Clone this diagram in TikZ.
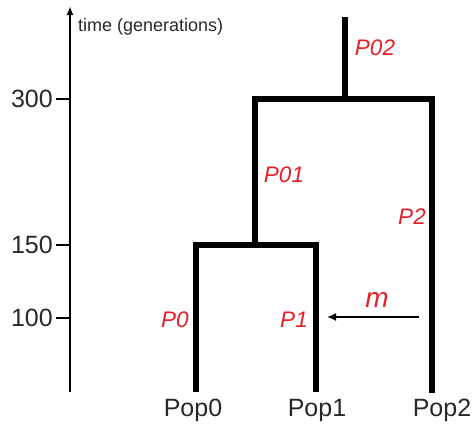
\documentclass[tikz,border=0pt]{standalone}
\usepackage{fontspec}
\setmainfont{Liberation Sans}
\usetikzlibrary{arrows.meta}
\definecolor{lblred}{RGB}{228,32,38}
\definecolor{txtgray}{RGB}{40,40,40}
\begin{document}
\begin{tikzpicture}[x=1pt,y=-1pt,
  branch/.style={line width=6pt,line join=miter,line cap=butt},
  axisline/.style={line width=2pt},
  poplbl/.style={font=\fontsize{25}{25}\selectfont,text=txtgray,inner sep=0pt},
  ticklbl/.style={font=\fontsize{25}{25}\selectfont,text=txtgray,inner sep=0pt,anchor=east},
  redlbl/.style={font=\fontsize{22.5}{22.5}\selectfont\itshape,text=lblred,inner sep=0pt}]
\useasboundingbox (0,0) rectangle (476,426);
% axis
\coordinate (axb) at (70,392);
\coordinate (axt) at (70,6);
\draw[axisline,-{Latex[length=9pt,width=7pt]}] (axb) -- (axt);
\node[font=\fontsize{18}{18}\selectfont,text=txtgray,inner sep=0pt,anchor=west] (tlab) at (78,27) {time (generations)};
% ticks
\coordinate (t300) at (70,99);
\coordinate (t150) at (70,245);
\coordinate (t100) at (70,318);
\node[ticklbl] (l300) at (53,99) {300};
\node[ticklbl] (l150) at (53,245) {150};
\node[ticklbl] (l100) at (53,318) {100};
\draw[axisline] (l300.east) ++(3,0) coordinate (s300) (s300) -- (t300);
\draw[axisline] (l150.east) ++(3,0) coordinate (s150) (s150) -- (t150);
\draw[axisline] (l100.east) ++(3,0) coordinate (s100) (s100) -- (t100);
% tree coordinates
\coordinate (p0b) at (196,392);
\coordinate (p1b) at (316,392);
\coordinate (p2b) at (432,393);
\coordinate (j0) at (196,245);
\coordinate (j1) at (316,245);
\coordinate (j01) at (255,245);
\coordinate (k01) at (255,99);
\coordinate (k2) at (432,99);
\coordinate (root) at (345,99);
\coordinate (rtop) at (345,17);
\draw[branch] (p0b) -- (j0) -- (j1) -- (p1b);
\draw[branch] (j01) -- (k01) -- (k2) -- (p2b);
\draw[branch] (root) -- (rtop);
% leaf labels
\node[poplbl] (pop0) at (193,410) {Pop0};
\node[poplbl] (pop1) at (317,410) {Pop1};
\node[poplbl] (pop2) at (442,410) {Pop2};
% red labels
\node[redlbl] (lp02) at (375,48) {P02};
\node[redlbl] (lp01) at (284,175) {P01};
\node[redlbl] (lp2) at (412,217) {P2};
\node[redlbl] (lp0) at (175,320) {P0};
\node[redlbl] (lp1) at (294,320) {P1};
% migration
\coordinate (mfrom) at (419,317);
\coordinate (mto) at (327,317);
\draw[axisline,-{Latex[length=9pt,width=8pt]}] (mfrom) -- (mto);
\node[font=\fontsize{28}{28}\selectfont\itshape,text=lblred,inner sep=0pt,anchor=base] (mlab) at (377,307) {m};
\end{tikzpicture}
\end{document}
